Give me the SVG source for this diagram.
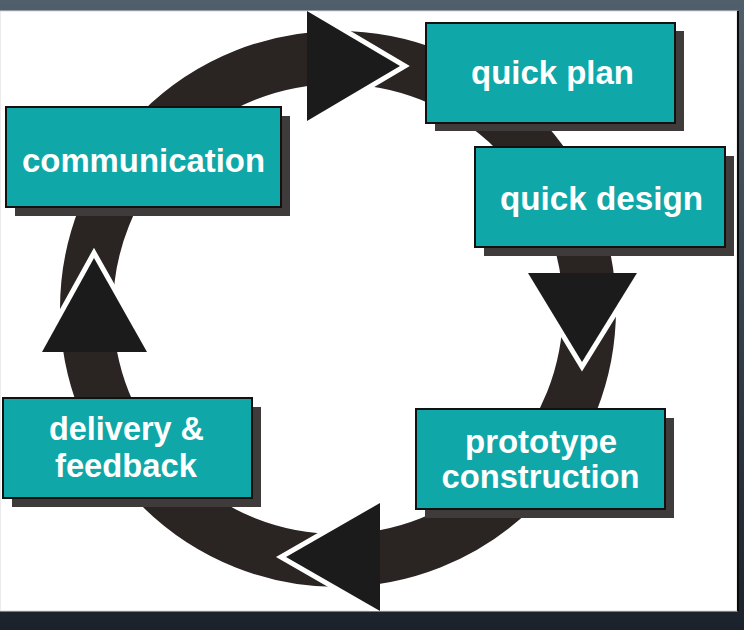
<svg xmlns="http://www.w3.org/2000/svg" width="744" height="630" viewBox="0 0 744 630">
  <defs>
    <linearGradient id="frame" x1="0" y1="0" x2="0" y2="1">
      <stop offset="0" stop-color="#505f6b"/>
      <stop offset="0.5" stop-color="#34404b"/>
      <stop offset="1" stop-color="#1b222b"/>
    </linearGradient>
    <clipPath id="paper">
      <rect x="0" y="11" width="737" height="600"/>
    </clipPath>
  </defs>
  <style>
    .shadow { fill: #3e3b3a; }
    .box { fill: #0fa7a8; stroke: #111; stroke-width: 2; }
    .label { font-family: "Liberation Sans", Arial, sans-serif; font-weight: bold; font-size: 33px; fill: #ffffff; text-anchor: middle; }
    .ring { fill: none; stroke: #2a2422; stroke-width: 53; }
    .head { fill: #1c1b1b; }
    .gap { fill: none; stroke: #ffffff; stroke-width: 10; stroke-linejoin: miter; stroke-miterlimit: 10; }
  </style>
  <rect x="0" y="0" width="744" height="630" fill="url(#frame)"/>
  <rect x="0" y="11" width="737" height="600" fill="#ffffff" stroke="#d8d8d8" stroke-width="1"/>
  <line x1="738" y1="11" x2="738" y2="611" stroke="#0a0a0a" stroke-width="2"/>

  <g id="connectors" clip-path="url(#paper)">
    <circle class="ring" cx="338" cy="309" r="251.5"/>
    <g id="arrow-top">
      <polyline class="gap" points="307,11 400,66 307,121"/>
      <polygon class="head" points="307,11 400,66 307,121"/>
    </g>
    <g id="arrow-right">
      <polyline class="gap" points="528,273 582,362 637,273"/>
      <polygon class="head" points="528,273 582,362 637,273"/>
    </g>
    <g id="arrow-bottom">
      <polyline class="gap" points="380,503 286,557 380,611"/>
      <polygon class="head" points="380,503 286,557 380,611"/>
    </g>
    <g id="arrow-left">
      <polyline class="gap" points="42,352 94,258 147,352"/>
      <polygon class="head" points="42,352 94,258 147,352"/>
    </g>
  </g>

  <g id="communication">
    <rect class="shadow" x="15" y="116" width="275" height="100"/>
    <rect class="box" x="6" y="107" width="275" height="100"/>
    <text class="label" x="143.5" y="172" textLength="243" lengthAdjust="spacingAndGlyphs">communication</text>
  </g>
  <g id="quick-plan">
    <rect class="shadow" x="435" y="31" width="249" height="100"/>
    <rect class="box" x="426" y="23" width="249" height="100"/>
    <text class="label" x="552.5" y="84" textLength="163" lengthAdjust="spacingAndGlyphs">quick plan</text>
  </g>
  <g id="quick-design">
    <rect class="shadow" x="484" y="156" width="250" height="100"/>
    <rect class="box" x="475" y="147" width="250" height="100"/>
    <text class="label" x="601.5" y="210" textLength="203" lengthAdjust="spacingAndGlyphs">quick design</text>
  </g>
  <g id="prototype-construction">
    <rect class="shadow" x="425" y="418" width="249" height="100"/>
    <rect class="box" x="416" y="409" width="249" height="100"/>
    <text class="label" x="541" y="453" textLength="152" lengthAdjust="spacingAndGlyphs">prototype</text>
    <text class="label" x="540.5" y="488" textLength="198" lengthAdjust="spacingAndGlyphs">construction</text>
  </g>
  <g id="delivery-feedback">
    <rect class="shadow" x="12" y="407" width="249" height="100"/>
    <rect class="box" x="3" y="398" width="249" height="100"/>
    <text class="label" x="126.5" y="440" textLength="155" lengthAdjust="spacingAndGlyphs">delivery &amp;</text>
    <text class="label" x="126" y="477" textLength="142" lengthAdjust="spacingAndGlyphs">feedback</text>
  </g>
</svg>
